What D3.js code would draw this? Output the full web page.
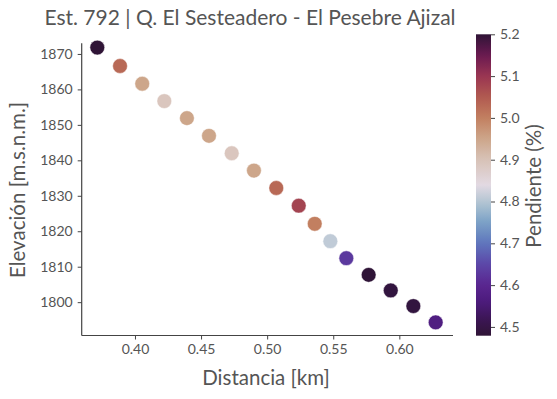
<!DOCTYPE html>
<html>
<head>
<meta charset="utf-8">
<script src="https://cdn.jsdelivr.net/npm/d3@7"></script>
<style>
  body { margin: 0; background: #fff; }
  text { font-family: Lato, "Open Sans", sans-serif; fill: #555; }
</style>
</head>
<body>
<div class="chart"></div>
<script>
// data
var distancia = [0.3715, 0.3887, 0.4055, 0.4222, 0.4393, 0.4560, 0.4732, 0.4900, 0.5069,
                 0.5239, 0.5360, 0.5478, 0.5599, 0.5768, 0.5935, 0.6106, 0.6275];
var elevacion = [1871.8, 1866.6, 1861.6, 1856.7, 1851.9, 1846.9, 1842.0, 1837.1, 1832.2,
                 1827.2, 1822.1, 1817.2, 1812.4, 1807.7, 1803.3, 1798.9, 1794.3];
var pendiente = [5.2, 5.03, 4.95, 4.89, 4.95, 4.95, 4.89, 4.95, 5.03,
                 5.08, 5.0, 4.81, 4.63, 4.48, 4.49, 4.49, 4.57];
var xTicks = [0.40, 0.45, 0.50, 0.55, 0.60];
var yTicks = [1800, 1810, 1820, 1830, 1840, 1850, 1860, 1870];
var cTicks = [4.5, 4.6, 4.7, 4.8, 4.9, 5.0, 5.1, 5.2];

// twilight_shifted like colormap (stops at 0..1)
var cmapStops = [0, 0.057, 0.112, 0.168, 0.237, 0.307, 0.376, 0.445, 0.5,
                 0.584, 0.653, 0.723, 0.792, 0.861, 0.931, 1];
var cmapColors = ["#2f1436", "#3c1656", "#4c1b7c", "#5a2590", "#5c47a8", "#5f76bd",
                  "#7ba1c6", "#b4c6d3", "#e2d9e2", "#d8c2b7", "#cda68a", "#c27f60",
                  "#b15a50", "#9a3552", "#6a1a51", "#2f1436"];

var width = 557, height = 399;
var cMin = 4.479, cMax = 5.2;

var svg = d3.select(".chart")
    .append("svg")
    .attr("width", width)
    .attr("height", height);

var x = d3.scaleLinear().domain([0.3597, 0.6406]).range([81.7, 453]);
var y = d3.scaleLinear().domain([1790.6, 1873]).range([335.5, 43.3]);

var cmap = d3.scaleLinear().domain(cmapStops).range(cmapColors).interpolate(d3.interpolateRgb);
var color = function(v){ return cmap((v - cMin) / (cMax - cMin)); };

// axes
var gx = svg.append("g")
    .attr("transform", "translate(0," + 335.5 + ")")
    .call(d3.axisBottom(x).tickValues(xTicks).tickSize(4).tickPadding(5).tickFormat(d3.format(".2f")));

var gy = svg.append("g")
    .attr("transform", "translate(" + 81.7 + ",0)")
    .call(d3.axisLeft(y).tickValues(yTicks).tickSize(4).tickPadding(5).tickFormat(d3.format("d")));

[gx, gy].forEach(function(g){
  g.select(".domain").attr("stroke", "#444").attr("stroke-width", 1.2);
  g.selectAll(".tick line").attr("stroke", "#444").attr("stroke-width", 1);
  g.selectAll(".tick text").style("font-size", "14px").attr("fill", "#555")
    .style("font-family", "Lato, sans-serif");
});
gx.select(".domain").attr("d", "M81.7,0H453");
gy.select(".domain").attr("d", "M0,43.3V335.5");

// points
svg.append("g")
  .selectAll("circle")
  .data(distancia)
  .enter()
  .append("circle")
  .attr("cx", function(d){ return x(d); })
  .attr("cy", function(d, i){ return y(elevacion[i]); })
  .attr("r", 7.4)
  .attr("fill", function(d, i){ return color(pendiente[i]); })
  .attr("stroke", "#fff")
  .attr("stroke-width", 0.5);

// title and labels
svg.append("text")
  .attr("x", 250)
  .attr("y", 25)
  .attr("text-anchor", "middle")
  .style("font-size", "21px")
  .attr("fill", "#555")
  .text("Est. 792 | Q. El Sesteadero - El Pesebre Ajizal");

svg.append("text")
  .attr("x", 266)
  .attr("y", 385)
  .attr("text-anchor", "middle")
  .style("font-size", "20.5px")
  .text("Distancia [km]");

svg.append("text")
  .attr("transform", "translate(25,190) rotate(-90)")
  .attr("text-anchor", "middle")
  .style("font-size", "20.5px")
  .text("Elevación [m.s.n.m.]");

// colorbar
var cb = svg.append("g").attr("transform", "translate(476,0)");
var cy = d3.scaleLinear().domain([cMin, cMax]).range([335.7, 34.3]);

var defs = svg.append("defs");
var grad = defs.append("linearGradient")
  .attr("id", "cbgrad")
  .attr("x1", 0).attr("y1", 1).attr("x2", 0).attr("y2", 0);
d3.range(0, 1.0001, 0.02).forEach(function(t){
  grad.append("stop").attr("offset", t).attr("stop-color", cmap(t));
});

cb.append("rect")
  .attr("x", 0)
  .attr("y", cy(cMax))
  .attr("width", 15)
  .attr("height", cy(cMin) - cy(cMax))
  .attr("fill", "url(#cbgrad)");

var gc = cb.append("g")
  .attr("transform", "translate(15,0)")
  .call(d3.axisRight(cy).tickValues(cTicks).tickSize(4).tickPadding(5).tickFormat(d3.format(".1f")));
gc.select(".domain").remove();
gc.selectAll(".tick line").attr("stroke", "#444");
gc.selectAll(".tick text").style("font-size", "14px").attr("fill", "#555")
  .style("font-family", "Lato, sans-serif");

svg.append("text")
  .attr("transform", "translate(541,186) rotate(-90)")
  .attr("text-anchor", "middle")
  .style("font-size", "20.5px")
  .text("Pendiente (%)");
</script>
</body>
</html>
